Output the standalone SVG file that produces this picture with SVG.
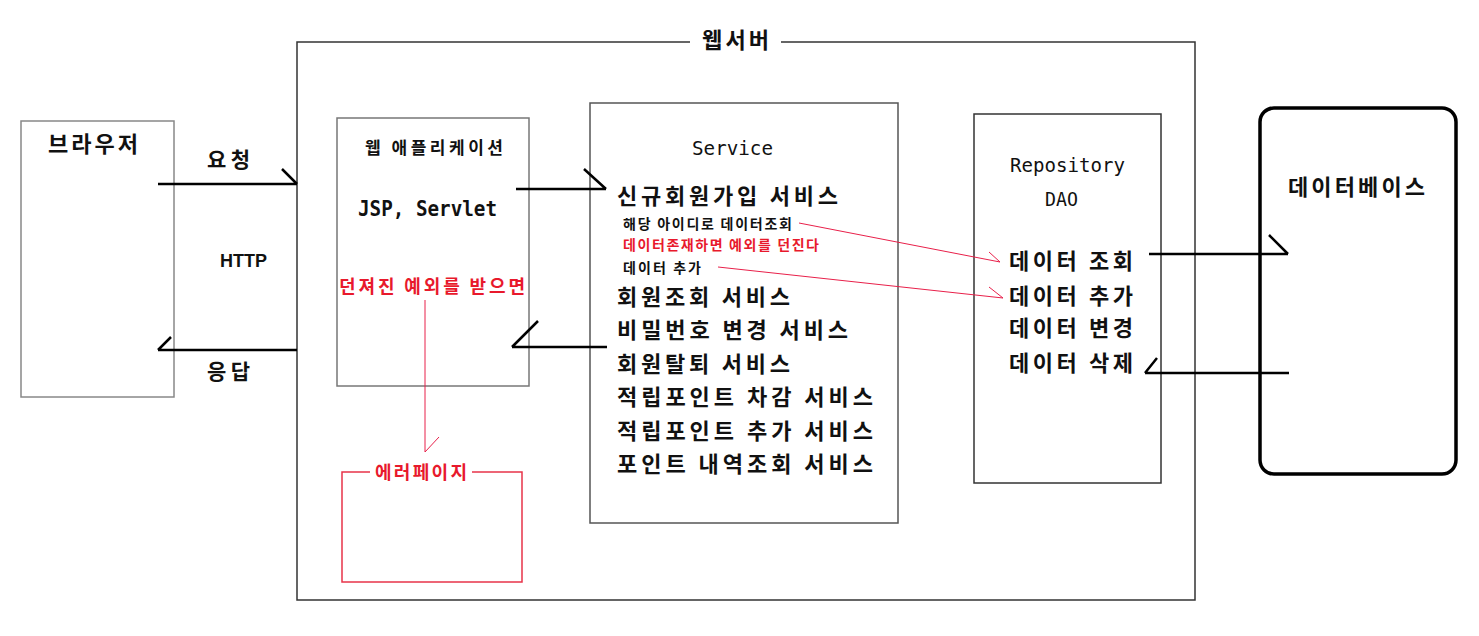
<svg xmlns="http://www.w3.org/2000/svg" width="1479" height="636" viewBox="0 0 1479 636">
<style>
.k{font-family:"Noto Sans CJK KR","Noto Sans",sans-serif;font-weight:bold;fill:#111}
.m{font-family:"DejaVu Sans Mono","Liberation Mono",monospace;font-weight:bold;fill:#111}
.mn{font-family:"DejaVu Sans Mono","Liberation Mono",monospace;font-weight:normal;fill:#111}
.r{fill:#e8192c}
.box{fill:none}
.con{stroke:#000;stroke-width:2.5;fill:none}
.rc{stroke:#e8204a;stroke-width:1;fill:none}
</style>
<rect width="1479" height="636" fill="#fff"/>
<g id="webserver">
<path class="box" d="M690,42 H297 V600 H1195 V42 H781" stroke="#333" stroke-width="1.5"/>
<text class="k" x="702" y="48" font-size="22" textLength="67" lengthAdjust="spacing">웹서버</text>
</g>
<g id="browser">
<rect class="box" x="21" y="121" width="153" height="276" stroke="#888" stroke-width="1.5"/>
<text class="k" x="48" y="152" font-size="22" textLength="90" lengthAdjust="spacing">브라우저</text>
</g>
<g id="webapp">
<rect class="box" x="337" y="118" width="192" height="268" stroke="#777" stroke-width="1.5"/>
<text class="k" x="365" y="154" font-size="17" textLength="138" lengthAdjust="spacing">웹 애플리케이션</text>
<text class="m" x="358" y="216" font-size="21" textLength="139" lengthAdjust="spacingAndGlyphs">JSP, Servlet</text>
<text class="k r" x="339" y="293" font-size="18" textLength="186" lengthAdjust="spacing">던져진 예외를 받으면</text>
</g>
<g id="errorpage">
<path class="box" d="M370,472 H342 V582 H522 V472 H472" stroke="#e8334a" stroke-width="1.5"/>
<text class="k r" x="375" y="479" font-size="18" textLength="92" lengthAdjust="spacing">에러페이지</text>
</g>
<g id="service">
<rect class="box" x="590" y="103" width="308" height="420" stroke="#555" stroke-width="1.5"/>
<text class="mn" x="692" y="155" font-size="20" textLength="81" lengthAdjust="spacingAndGlyphs">Service</text>
<text class="k" x="617" y="204" font-size="22" textLength="221" lengthAdjust="spacing">신규회원가입 서비스</text>
<text class="k" x="623" y="229" font-size="14" textLength="169" lengthAdjust="spacing">해당 아이디로 데이터조회</text>
<text class="k r" x="623" y="250" font-size="14" textLength="196" lengthAdjust="spacing">데이터존재하면 예외를 던진다</text>
<text class="k" x="623" y="273" font-size="14" textLength="78" lengthAdjust="spacing">데이터 추가</text>
<text class="k" x="617" y="305" font-size="22" textLength="173" lengthAdjust="spacing">회원조회 서비스</text>
<text class="k" x="617" y="338" font-size="22" textLength="231" lengthAdjust="spacing">비밀번호 변경 서비스</text>
<text class="k" x="617" y="372" font-size="22" textLength="173" lengthAdjust="spacing">회원탈퇴 서비스</text>
<text class="k" x="617" y="405" font-size="22" textLength="256" lengthAdjust="spacing">적립포인트 차감 서비스</text>
<text class="k" x="617" y="439" font-size="22" textLength="256" lengthAdjust="spacing">적립포인트 추가 서비스</text>
<text class="k" x="617" y="472" font-size="22" textLength="256" lengthAdjust="spacing">포인트 내역조회 서비스</text>
</g>
<g id="repository">
<rect class="box" x="974" y="114" width="187" height="369" stroke="#333" stroke-width="1.5"/>
<text class="mn" x="1010" y="172" font-size="19" textLength="115" lengthAdjust="spacingAndGlyphs">Repository</text>
<text class="mn" x="1045" y="206" font-size="19" textLength="33" lengthAdjust="spacingAndGlyphs">DAO</text>
<text class="k" x="1009" y="269" font-size="22" textLength="124" lengthAdjust="spacing">데이터 조회</text>
<text class="k" x="1009" y="304" font-size="22" textLength="124" lengthAdjust="spacing">데이터 추가</text>
<text class="k" x="1009" y="336" font-size="22" textLength="124" lengthAdjust="spacing">데이터 변경</text>
<text class="k" x="1009" y="371" font-size="22" textLength="124" lengthAdjust="spacing">데이터 삭제</text>
</g>
<g id="database">
<rect class="box" x="1260" y="108" width="196" height="366" rx="14" stroke="#000" stroke-width="3.5"/>
<text class="k" x="1288" y="195" font-size="22" textLength="137" lengthAdjust="spacing">데이터베이스</text>
</g>
<g id="connectors">
<path class="con" d="M158,184 H297 M282,169 L297,184"/>
<text class="k" x="207" y="167" font-size="21" textLength="43" lengthAdjust="spacing">요청</text>
<text font-family="Liberation Sans,Arial,sans-serif" font-weight="bold" fill="#111" x="220" y="267" font-size="19" textLength="47" lengthAdjust="spacingAndGlyphs">HTTP</text>
<path class="con" d="M297,350 H158 M158,350 L171,337"/>
<text class="k" x="207" y="379" font-size="21" textLength="43" lengthAdjust="spacing">응답</text>
<path class="con" d="M516,189 H606 M584,169 L606,189"/>
<path class="con" d="M607,347 H512 M512,347 L538,321"/>
<path class="con" d="M1149,254 H1288 M1269,235 L1288,254"/>
<path class="con" d="M1289,373 H1145 M1145,373 L1157,358"/>
<path class="rc" d="M425,300 V452 M425,452 L439,437"/>
<path class="rc" d="M799,223 L1000,262 M989,252 L1000,262"/>
<path class="rc" d="M718,267 L1003,298 M989,287 L1003,298"/>
</g>
</svg>
